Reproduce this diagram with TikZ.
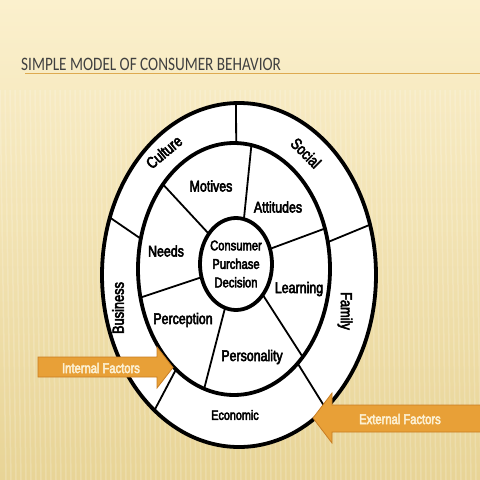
\documentclass[tikz,border=0pt]{standalone}
\usepackage{fontspec}
\setmainfont{Carlito}
\newfontfamily\titlefont[FakeStretch=0.8]{Carlito}
\newfontfamily\diagfont[FakeStretch=0.8,FakeBold=3.5]{Liberation Sans}
\usepackage{tikz}
\usetikzlibrary{calc,shapes,backgrounds,positioning}

\definecolor{bgtop}{RGB}{251,240,205}
\definecolor{bgbot}{RGB}{232,212,150}
\definecolor{arrowfill}{RGB}{232,160,55}
\definecolor{arrowline}{RGB}{200,125,35}
\definecolor{arrowtext}{RGB}{252,240,210}
\definecolor{ruleline}{RGB}{222,170,80}

\begin{document}
\begin{tikzpicture}[x=1pt,y=-1pt]
		\tikzstyle{ring}=[ellipse, draw, fill=white, line width=3.8pt, inner sep=0pt, outer sep=0pt]
		\tikzstyle{div}=[line width=1.8pt]
		\tikzstyle{lbl}=[font=\diagfont\fontsize{15.5}{17}\selectfont, inner sep=1pt]
		\tikzstyle{olbl}=[font=\diagfont\fontsize{16}{18}\selectfont, inner sep=1pt]
		\tikzstyle{fac}=[fill=arrowfill, draw=arrowline, line width=0.8pt]
		\tikzstyle{factxt}=[text=arrowtext, font=\diagfont\fontsize{14}{16}\selectfont, inner sep=0pt]

		% background
		\useasboundingbox (0,0) rectangle (480,480);
		\shade[top color=bgtop, bottom color=bgbot] (0,0) rectangle (480,480);
		\foreach \x in {0,5,...,480}
			\draw[white, opacity=0.18, line width=1.5pt] (\x,90) -- (\x+6,480);

		% title
		\node[anchor=base west, text=black!75, font=\titlefont\fontsize{19}{21}\selectfont, inner sep=0pt] (T1) at (21,70) {SIMPLE MODEL OF CONSUMER BEHAVIOR};
		\draw[ruleline, line width=1pt] (25,73.5) -- (480,73.5);

		% rings
		\node[ring, minimum width=274pt, minimum height=344pt] (E1) at (239,275) {};
		\node[ring, minimum width=192pt, minimum height=252pt] (E2) at (234,269) {};
		\node[ring, minimum width=72pt, minimum height=92pt] (E3) at (236,264) {};

		% outer dividers
		\draw [div] (E2.89) to (E1.91);
		\draw [div] (E2.16) to (E1.21);
		\draw [div] (E2.-56) to (E1.-57);
		\draw [div] (E2.240) to (E1.238);
		\draw [div] (E2.162) to (E1.156);

		% inner dividers
		\draw [div] (E3.80) to (E2.82);
		\draw [div] (E3.24) to (E2.24);
		\draw [div] (E3.-49) to (E2.-52);
		\draw [div] (E3.256) to (E2.256);
		\draw [div] (E3.201) to (E2.197);
		\draw [div] (E3.132) to (E2.130);

		% labels
		\node[lbl] (L1) at (211,186) {Motives};
		\node[lbl] (L2) at (278,207) {Attitudes};
		\node[lbl] (L3) at (166,251) {Needs};
		\node[lbl] (L4) at (299,289) {Learning};
		\node[lbl] (L5) at (183,320) {Perception};
		\node[lbl] (L6) at (252,357) {Personality};
		\node[align=center, font=\diagfont\fontsize{14}{18.5}\selectfont, inner sep=0pt] (L7) at (236,264) {Consumer\\Purchase\\Decision};

		\node[olbl, rotate=40] (O1) at (164,152) {Culture};
		\node[olbl, rotate=-45] (O2) at (306,153) {Social};
		\node[olbl, rotate=-90] (O3) at (345,311) {Family};
		\node[olbl, rotate=90] (O4) at (118,308) {Business};
		\node[olbl, font=\diagfont\fontsize{13.5}{15}\selectfont] (O5) at (235,415) {Economic};

		% factor arrows
		\draw[fac] (38,357) -- (157,357) -- (157,347) -- (173,367.5) -- (157,388) -- (157,377) -- (38,377) -- cycle;
		\node[factxt] (F1) at (101,368) {Internal Factors};
		\draw[fac] (482,405) -- (332,405) -- (332,393) -- (313,418) -- (332,443) -- (332,432) -- (482,432) -- cycle;
		\node[factxt] (F2) at (400,419) {External Factors};
\end{tikzpicture}
\end{document}
